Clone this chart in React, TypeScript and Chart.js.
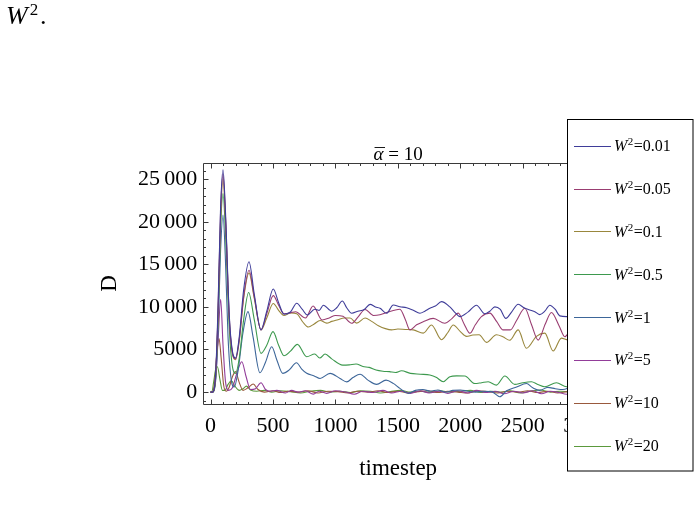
import React, { useEffect, useRef } from 'react';
import { Chart, registerables } from 'chart.js';

Chart.register(...registerables);

// ---- data ----
const seriesLabels = ['0.01', '0.05', '0.1', '0.5', '1', '5', '10', '20'];
const seriesColors = ['#3f3d99', '#993d71', '#99873d', '#3d994e', '#3d6699', '#923d99', '#99593d', '#5b993d'];
const xTickValues = [0, 500, 1000, 1500, 2000, 2500, 3000];
const yTickValues = [0, 5000, 10000, 15000, 20000, 25000];
const xMinorStep = 100;
const yMinorStep = 1000;
const titleText = ' = 10';
const xTitle = 'timestep';
const yTitle = 'D';

const tA = [0, 15, 40, 60, 80, 100, 120, 150, 175, 200, 230, 265, 308, 350, 404, 450, 502, 545, 588, 640, 690, 735, 775, 834, 870, 903, 970, 1010, 1055, 1090, 1130, 1180, 1230, 1277, 1320, 1357, 1409, 1463, 1516, 1570, 1623, 1676, 1716, 1756, 1800, 1849, 1916, 1960, 1996, 2063, 2129, 2196, 2236, 2276, 2320, 2364, 2410, 2463, 2510, 2556, 2600, 2636, 2676, 2716, 2760, 2796, 2850, 2900, 2950, 3000];
const dA = [0, 0, 2000, 10000, 21500, 26100, 21000, 9000, 4800, 4000, 6500, 12000, 15300, 11500, 7300, 9500, 12100, 10500, 9140, 9400, 10430, 9700, 9050, 9730, 9600, 10200, 9500, 9900, 10700, 9900, 9250, 9500, 9700, 10300, 10000, 9840, 9250, 10230, 10030, 9900, 9600, 9250, 9500, 9840, 10100, 10620, 10000, 9300, 8860, 9420, 10200, 9200, 9500, 10000, 9700, 8650, 9400, 10310, 9900, 9650, 9400, 9100, 9500, 10200, 9700, 8950, 8860, 9000, 9100, 8900];

const tB = [0, 15, 40, 60, 80, 100, 120, 150, 175, 200, 230, 265, 308, 350, 404, 450, 502, 545, 588, 640, 680, 760, 821, 893, 950, 1000, 1060, 1130, 1180, 1237, 1304, 1356, 1409, 1470, 1516, 1560, 1596, 1650, 1703, 1783, 1876, 1930, 1983, 2030, 2076, 2120, 2169, 2236, 2290, 2343, 2400, 2450, 2516, 2570, 2623, 2680, 2729, 2790, 2836, 2880, 2940, 3000];
const dB = [0, 0, 1800, 9500, 21000, 25600, 20500, 8800, 4600, 3900, 6200, 11200, 14300, 11200, 7300, 9200, 11330, 10200, 9200, 9300, 9440, 8700, 10100, 8470, 8700, 9000, 8900, 8080, 8800, 9700, 9000, 9080, 9350, 9600, 9720, 8500, 7300, 7900, 8270, 8650, 8080, 8600, 9270, 8000, 6900, 7900, 8860, 9270, 8300, 7300, 7300, 8400, 9840, 7900, 6100, 8000, 9350, 7800, 6500, 7200, 7500, 7000];

const tC = [0, 15, 40, 60, 80, 100, 120, 150, 175, 200, 230, 265, 308, 350, 404, 450, 502, 545, 588, 640, 690, 740, 783, 830, 877, 930, 970, 1020, 1070, 1117, 1170, 1237, 1290, 1344, 1400, 1450, 1500, 1560, 1623, 1703, 1769, 1849, 1900, 1943, 2000, 2049, 2100, 2150, 2209, 2289, 2340, 2396, 2463, 2529, 2609, 2676, 2743, 2809, 2860, 2920, 3000];
const dC = [0, 0, 1700, 9000, 20000, 25000, 20200, 8500, 4500, 3800, 6000, 11000, 14000, 11000, 7300, 8700, 10400, 9600, 9000, 9300, 9200, 8200, 7640, 8000, 8400, 8100, 8300, 8500, 8700, 8700, 8100, 8700, 8300, 7800, 7450, 7300, 7400, 7350, 7300, 6920, 7880, 6150, 7000, 7880, 7100, 6540, 6700, 6730, 5840, 6730, 6500, 6080, 7300, 5150, 6540, 6920, 4820, 6340, 6150, 6500, 6200];

const tD = [0, 15, 40, 60, 80, 100, 120, 150, 175, 200, 230, 265, 305, 350, 404, 450, 500, 545, 588, 640, 695, 770, 834, 874, 917, 970, 1058, 1110, 1165, 1220, 1270, 1325, 1380, 1432, 1480, 1529, 1600, 1680, 1756, 1810, 1863, 1916, 1970, 2036, 2116, 2170, 2223, 2289, 2356, 2436, 2500, 2569, 2620, 2676, 2769, 2850, 2920, 3000];
const dD = [0, 0, 1500, 8500, 19000, 23300, 18500, 7500, 3000, 2200, 4000, 8500, 11700, 8500, 4550, 5500, 7100, 5500, 4270, 4800, 5600, 4150, 4470, 4000, 4470, 3900, 3170, 3200, 3300, 3000, 2900, 2590, 2450, 2400, 2300, 2500, 2200, 2100, 2000, 1700, 1210, 1800, 1900, 1880, 1000, 1100, 1210, 820, 1880, 900, 1100, 1210, 900, 630, 1100, 630, 700, 800];

const tE = [0, 15, 40, 60, 80, 100, 118, 140, 165, 190, 220, 260, 300, 340, 395, 440, 490, 530, 578, 630, 688, 730, 770, 830, 877, 957, 1037, 1090, 1140, 1197, 1260, 1330, 1405, 1463, 1516, 1583, 1640, 1700, 1760, 1820, 1880, 1940, 2000, 2060, 2120, 2180, 2250, 2316, 2370, 2450, 2529, 2580, 2636, 2700, 2760, 2820, 2900, 3000];
const dE = [0, 0, 1200, 7000, 16500, 20800, 16000, 6500, 1500, 600, 2500, 7000, 9450, 6500, 2270, 3500, 5330, 3800, 2200, 2600, 3450, 2700, 2200, 1900, 1600, 2200, 1600, 1200, 1700, 2100, 1400, 900, 1400, 1020, 430, -150, 200, 300, 100, 250, 0, 200, 250, 100, 0, 100, 50, -550, 150, 600, 1000, 500, 200, 550, 400, 300, 600, 300];

const tF = [0, 20, 40, 60, 81, 100, 120, 145, 175, 210, 250, 285, 320, 360, 404, 440, 480, 530, 600, 650, 700, 760, 823, 870, 930, 1000, 1080, 1150, 1220, 1300, 1380, 1450, 1530, 1600, 1680, 1750, 1830, 1900, 1980, 2060, 2130, 2200, 2280, 2350, 2430, 2500, 2580, 2650, 2720, 2790, 2850, 2920, 3000];
const dF = [0, 0, 1500, 6000, 10900, 5500, 1200, 200, 500, 2200, 3560, 1800, 300, 400, 1100, 300, 100, 200, -100, 200, 0, 150, -240, 100, -150, 150, 0, -250, 100, -50, 200, -100, 100, -150, 150, -100, 100, -150, 150, -100, 200, -50, 100, -200, 100, -100, 150, -200, 100, -50, -250, 0, 100];

const tG = [0, 15, 35, 50, 68, 85, 105, 125, 150, 175, 200, 228, 260, 300, 342, 380, 430, 500, 560, 620, 700, 780, 860, 940, 1020, 1100, 1180, 1260, 1340, 1420, 1500, 1580, 1660, 1740, 1820, 1900, 1980, 2060, 2140, 2220, 2300, 2380, 2460, 2540, 2620, 2700, 2780, 2860, 2940, 3000];
const dG = [0, 0, 1500, 4500, 6300, 4000, 800, 100, 600, 1800, 2400, 1200, 200, 500, 940, 300, 0, 150, -50, 100, 0, 150, -100, 100, 50, -100, 100, 0, 150, -50, 100, -100, 50, 150, -50, 100, 0, -100, 150, 50, -100, 100, 0, 150, -50, 100, -100, 50, 100, 0];

const tH = [0, 10, 25, 40, 55, 75, 95, 115, 140, 167, 195, 230, 260, 287, 320, 370, 430, 490, 560, 640, 720, 800, 880, 960, 1040, 1120, 1200, 1280, 1360, 1440, 1520, 1600, 1680, 1760, 1840, 1920, 2000, 2080, 2160, 2240, 2320, 2400, 2480, 2560, 2640, 2720, 2800, 2880, 2960, 3000];
const dH = [0, 0, 1200, 2600, 2980, 1500, 200, 200, 900, 1330, 700, 200, 400, 700, 250, 100, 200, 0, 150, 50, -100, 100, 200, 0, 100, -50, 150, 100, -100, 50, 200, 0, 100, -50, 150, 0, 100, 200, -50, 100, 0, 150, -100, 100, 250, 0, 100, 50, 150, 100];

const seriesTimes = [tA, tB, tC, tD, tE, tF, tG, tH];
const seriesValues = [dA, dB, dC, dD, dE, dF, dG, dH];

const SERIF = '"Liberation Serif", "Times New Roman", serif';

function fmtY(v: number): string {
  const s = String(Math.round(v));
  if (Math.abs(v) >= 10000) return s.slice(0, s.length - 3) + '\u2009' + s.slice(s.length - 3);
  return s;
}

const framePlugin = {
  id: 'mmaFrame',
  afterDraw(chart: any) {
    const ctx: CanvasRenderingContext2D = chart.ctx;
    const a = chart.chartArea;
    const xs = chart.scales.x;
    const ys = chart.scales.y;
    ctx.save();

    // frame
    ctx.strokeStyle = '#3a3a3a';
    ctx.lineWidth = 1;
    const L = Math.round(a.left) + 0.5, R = Math.round(a.right) + 0.5;
    const T = Math.round(a.top) + 0.5, B = Math.round(a.bottom) + 0.5;
    ctx.beginPath();
    ctx.rect(L, T, R - L, B - T);
    ctx.stroke();

    // inward ticks (x: bottom & top)
    ctx.beginPath();
    for (let v = Math.ceil(xs.min / xMinorStep) * xMinorStep; v <= xs.max; v += xMinorStep) {
      const px = Math.round(xs.getPixelForValue(v)) + 0.5;
      const len = xTickValues.includes(v) ? 5 : 2.5;
      ctx.moveTo(px, B); ctx.lineTo(px, B - len);
      ctx.moveTo(px, T); ctx.lineTo(px, T + len);
    }
    // y: left & right
    for (let v = Math.ceil(ys.min / yMinorStep) * yMinorStep; v <= ys.max; v += yMinorStep) {
      const py = Math.round(ys.getPixelForValue(v)) + 0.5;
      const len = yTickValues.includes(v) ? 5 : 2.5;
      ctx.moveTo(L, py); ctx.lineTo(L + len, py);
      ctx.moveTo(R, py); ctx.lineTo(R - len, py);
    }
    ctx.stroke();

    // plot label: alpha-bar = 10
    ctx.fillStyle = '#000';
    ctx.textBaseline = 'alphabetic';
    ctx.textAlign = 'left';
    ctx.font = 'italic 19px ' + SERIF;
    const wA = ctx.measureText('\u03B1').width;
    ctx.font = '19px ' + SERIF;
    const wR = ctx.measureText(titleText).width;
    const cx = (a.left + a.right) / 2;
    const x0 = cx - (wA + wR) / 2;
    const baseY = 159.5;
    ctx.font = 'italic 19px ' + SERIF;
    ctx.fillText('\u03B1', x0, baseY);
    ctx.font = '19px ' + SERIF;
    ctx.fillText(titleText, x0 + wA, baseY);
    ctx.strokeStyle = '#000';
    ctx.lineWidth = 0.9;
    ctx.beginPath();
    ctx.moveTo(x0 + 1, 147.5);
    ctx.lineTo(x0 + wA + 1.5, 147.5);
    ctx.stroke();

    // legend box
    const bx = 567.5, by = 119.5, bw = 125.5, bh = 351.5;
    ctx.fillStyle = '#fff';
    ctx.fillRect(bx, by, bw, bh);
    ctx.strokeStyle = '#000';
    ctx.lineWidth = 1;
    ctx.strokeRect(bx, by, bw, bh);
    chart.data.datasets.forEach((ds: any, i: number) => {
      const y = 145.7 + i * 42.85;
      ctx.strokeStyle = ds.borderColor;
      ctx.lineWidth = 1;
      ctx.beginPath();
      ctx.moveTo(574, Math.round(y) + 0.5);
      ctx.lineTo(611, Math.round(y) + 0.5);
      ctx.stroke();
      ctx.fillStyle = '#000';
      let x = 614;
      ctx.font = 'italic 16px ' + SERIF;
      ctx.fillText('W', x, y + 5.5);
      x += ctx.measureText('W').width;
      ctx.font = '11px ' + SERIF;
      ctx.fillText('2', x + 0.5, y - 0.5);
      x += ctx.measureText('2').width + 1;
      ctx.font = '16px ' + SERIF;
      ctx.fillText('=' + seriesLabels[i], x, y + 5.5);
    });

    // fragment of surrounding text at top-left: W^2.
    ctx.fillStyle = '#000';
    ctx.font = 'italic 26px ' + SERIF;
    ctx.fillText('W', 6, 24);
    const wW = ctx.measureText('W').width;
    ctx.font = '17px ' + SERIF;
    ctx.fillText('2', 6 + wW + 2, 15);
    ctx.font = '26px ' + SERIF;
    ctx.fillText('.', 40, 24);

    ctx.restore();
  },
};

export default function App() {
  const ref = useRef<HTMLCanvasElement>(null);
  useEffect(() => {
    const canvas = ref.current;
    if (!canvas) return;
    const datasets = seriesTimes.map((ts, i) => ({
      label: 'W\u00B2=' + seriesLabels[i],
      data: ts.map((t, j) => ({ x: t, y: seriesValues[i][j] })).filter((p) => p.y !== undefined),
      borderColor: seriesColors[i],
      backgroundColor: seriesColors[i],
      borderWidth: 1.1,
      pointRadius: 0,
      fill: false,
      cubicInterpolationMode: 'monotone' as const,
    }));
    const chart = new Chart(canvas, {
      type: 'line',
      data: { datasets },
      plugins: [framePlugin],
      options: {
        responsive: false,
        animation: false,
        devicePixelRatio: 1,
        layout: { padding: { left: 0, right: 107, top: 163, bottom: 0 } },
        plugins: {
          legend: { display: false },
          tooltip: { enabled: false },
          title: { display: false },
        },
        scales: {
          x: {
            type: 'linear',
            min: -58,
            max: 3062,
            afterBuildTicks: (s: any) => { s.ticks = xTickValues.map((v) => ({ value: v })); },
            afterFit: (s: any) => { s.height = 114; },
            grid: { display: false, drawTicks: false },
            border: { display: false },
            ticks: {
              autoSkip: false,
              maxRotation: 0,
              padding: 9,
              color: '#000',
              font: { family: SERIF, size: 22 },
              callback: (v: any) => String(v),
            },
            title: {
              display: true,
              text: xTitle,
              color: '#000',
              font: { family: SERIF, size: 23 },
              padding: { top: 0, bottom: 35 },
            },
          },
          y: {
            type: 'linear',
            min: -1400,
            max: 26900,
            afterBuildTicks: (s: any) => { s.ticks = yTickValues.map((v) => ({ value: v })); },
            afterFit: (s: any) => { s.width = 203.3; },
            grid: { display: false, drawTicks: false },
            border: { display: false },
            ticks: {
              autoSkip: false,
              padding: 6,
              color: '#000',
              font: { family: SERIF, size: 22 },
              callback: (v: any) => fmtY(Number(v)),
            },
            title: {
              display: true,
              text: yTitle,
              color: '#000',
              font: { family: SERIF, size: 23 },
              padding: { top: 96, bottom: 0 },
            },
          },
        },
      },
    } as any);
    return () => chart.destroy();
  }, []);
  return (
    <div style={{ position: 'absolute', left: 0, top: 0, width: 700, height: 518, background: '#fff' }}>
      <canvas ref={ref} width={700} height={518} style={{ display: 'block' }} />
    </div>
  );
}
